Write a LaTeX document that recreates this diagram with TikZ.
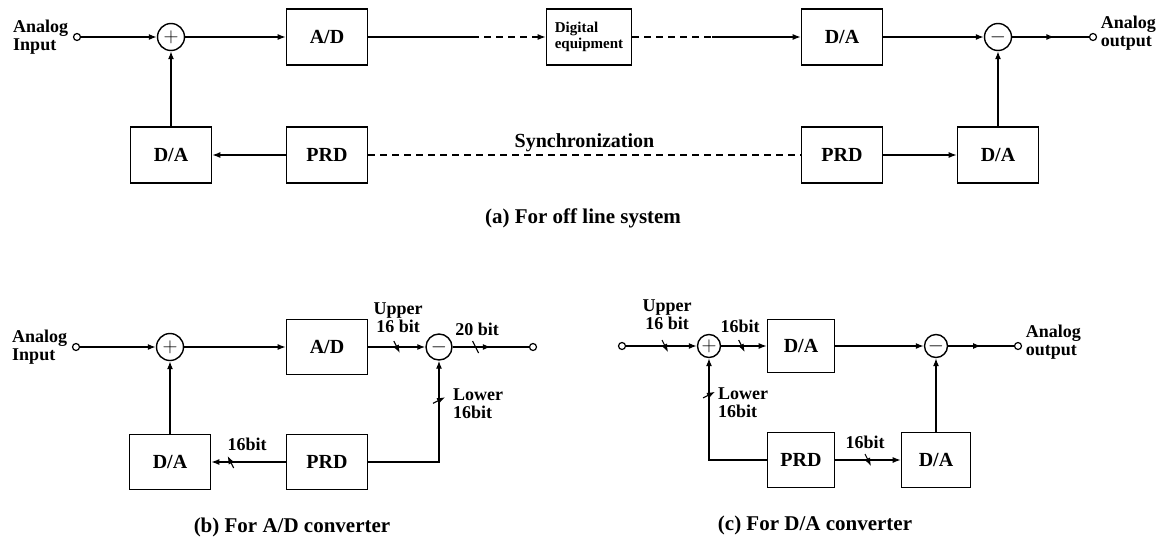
\documentclass[tikz,border=0pt]{standalone}
\usepackage{fontspec}
\setmainfont{Liberation Serif}
\usetikzlibrary{positioning,decorations.markings,arrows.meta}

\tikzset{
  block/.style={draw, line width=1.6pt, minimum width=81pt, minimum height=56pt,
    inner sep=2pt, font=\fontsize{20}{22}\selectfont\bfseries},
  junction/.style={circle, draw, line width=1.4pt, minimum size=27pt, inner sep=0pt,
    font=\fontsize{20}{20}\selectfont},
  terminal/.style={circle, draw, line width=1.2pt, minimum size=7pt, inner sep=0pt},
  lbl/.style={font=\fontsize{18}{18}\selectfont\bfseries, inner sep=1pt},
  caption/.style={font=\fontsize{21}{22}\selectfont\bfseries},
  longdash/.style={dash pattern=on 7pt off 5pt},
  busmark/.style={postaction={decorate, decoration={markings,
      mark=at position #1 with {\draw[solid, line width=1.1pt] (-3pt,6pt) -- (3pt,-6pt);}}}},
  midarrow/.style={postaction={decorate, decoration={markings,
      mark=at position #1 with {\arrow{>}}}}},
}

\begin{document}
\begin{tikzpicture}[x=1pt, y=-1pt, >={Latex[length=8pt,width=6pt]}, line width=1.3pt]
  \useasboundingbox (0,0) rectangle (1169,541);

  % (a) forward path
  \node[terminal] (inA) at (77,37) {};
  \node[lbl, align=left, left=3pt of inA] (inAtxt) {Analog\\Input};
  \node[junction] (sumA) at (171,37) {$+$};
  \node[block] (adA) at (327,37) {A/D};
  \node[block, minimum width=85pt, align=left,
    font=\fontsize{15}{16}\selectfont\bfseries] (digA) at (589,37) {Digital\\equipment};
  \node[block] (daA) at (842,37) {D/A};
  \node[junction] (subA) at (998,37) {$-$};
  \node[terminal] (outA) at (1093,37) {};
  \node[lbl, align=left, right=2pt of outA, yshift=4pt] (outAtxt) {Analog\\output};
  \coordinate (brkA1) at (472,37);
  \coordinate (brkA2) at (712,37);

  \draw[->] (inA) -- (sumA);
  \draw[->] (sumA) -- (adA);
  \draw (adA) -- (brkA1);
  \draw[->, longdash] (brkA1) -- (digA);
  \draw[longdash] (digA) -- (brkA2);
  \draw[->] (brkA2) -- (daA);
  \draw[->] (daA) -- (subA);
  \draw[midarrow=0.55] (subA) -- (outA);

  % (a) feedback and synchronization
  \node[block] (daA2) at (171,155) {D/A};
  \node[block] (prdA) at (327,155) {PRD};
  \node[block] (prdA2) at (842,155) {PRD};
  \node[block] (daA3) at (998,155) {D/A};
  \draw[->] (prdA) -- (daA2);
  \draw[->] (daA2) -- (sumA);
  \draw[longdash] (prdA) -- node[lbl, above=2pt, font=\fontsize{20}{22}\selectfont\bfseries]
    (syncA) {Synchronization} (prdA2);
  \draw[->] (prdA2) -- (daA3);
  \draw[->] (daA3) -- (subA);
  \node[caption] (capA) at (583,218) {(a) For off line system};

  % (b) A/D converter
  \node[terminal] (inB) at (76,347) {};
  \node[lbl, align=left, left=3pt of inB] (inBtxt) {Analog\\Input};
  \node[junction] (sumB) at (170,347) {$+$};
  \node[block, minimum height=55pt] (adB) at (327,347) {A/D};
  \node[junction, minimum size=26pt] (subB) at (439,347) {$-$};
  \node[terminal] (outB) at (533,347) {};
  \node[block, minimum height=55pt] (daB) at (170,462) {D/A};
  \node[block, minimum height=55pt] (prdB) at (327,462) {PRD};

  \draw[->] (inB) -- (sumB);
  \draw[->] (sumB) -- (adB);
  \draw[->, busmark=0.5] (adB) -- (subB);
  \draw[busmark=0.3, midarrow=0.5] (subB) -- (outB);
  \draw[->] (daB) -- (sumB);
  \draw[->, busmark=0.74] (prdB) -- (daB);
  \draw[->, busmark=0.77] (prdB) -| (subB);

  \node[lbl, align=center] (upB) at (398,318) {Upper\\16 bit};
  \node[lbl] (wideB) at (477,329) {20 bit};
  \node[lbl, align=left] (lowB) at (478,404) {Lower\\16bit};
  \node[lbl] (fbB) at (247,444) {16bit};
  \node[caption] (capB) at (292,527) {(b) For A/D converter};

  % (c) D/A converter
  \node[terminal] (inC) at (622,346) {};
  \node[junction, minimum size=23pt] (sumC) at (709,346) {$+$};
  \node[block, minimum width=67pt, minimum height=53pt] (daC) at (801,346) {D/A};
  \node[junction, minimum size=23pt] (subC) at (936,346) {$-$};
  \node[terminal] (outC) at (1018,346) {};
  \node[lbl, align=left, right=2pt of outC, yshift=4pt] (outCtxt) {Analog\\output};
  \node[block, minimum width=67pt, minimum height=55pt] (prdC) at (801,460) {PRD};
  \node[block, minimum width=69pt, minimum height=55pt] (daC2) at (936,460) {D/A};

  \draw[->, busmark=0.55] (inC) -- (sumC);
  \draw[->, busmark=0.45] (sumC) -- (daC);
  \draw[->] (daC) -- (subC);
  \draw[midarrow=0.5] (subC) -- (outC);
  \draw[->, busmark=0.77] (prdC) -| (sumC);
  \draw[->, busmark=0.5] (prdC) -- (daC2);
  \draw[->] (daC2) -- (subC);

  \node[lbl, align=center] (upC) at (667,315) {Upper\\16 bit};
  \node[lbl] (fwdC) at (740,326) {16bit};
  \node[lbl, align=left] (lowC) at (743,403) {Lower\\16bit};
  \node[lbl] (fbC) at (865,442) {16bit};
  \node[caption] (capC) at (815,525) {(c) For D/A converter};
\end{tikzpicture}
\end{document}
